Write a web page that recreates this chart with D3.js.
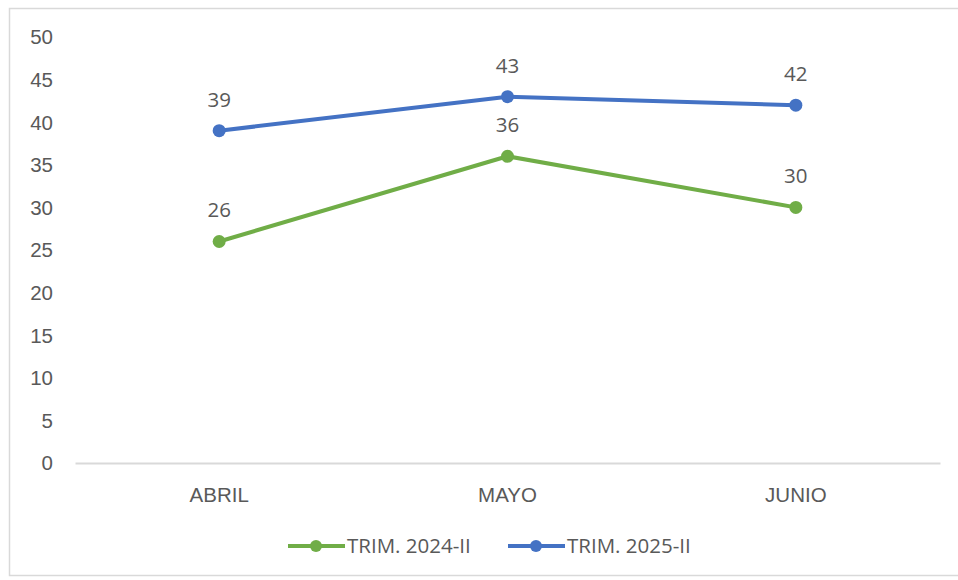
<!DOCTYPE html>
<html>
<head>
<meta charset="utf-8">
<script src="https://cdn.jsdelivr.net/npm/d3@7"></script>
<style>
  html, body { margin: 0; padding: 0; background: #fff; }
  svg { display: block; font-family: "Open Sans", "Noto Sans", "Liberation Sans", sans-serif; }
</style>
</head>
<body>
<svg id="chart" width="958" height="580"></svg>
<script>
// Monthly values for the second quarter of each year
const months = ["ABRIL", "MAYO", "JUNIO"];
const trim2024 = [26, 36, 30];
const trim2025 = [39, 43, 42];
const seriesNames = ["TRIM. 2024-II", "TRIM. 2025-II"];
const yTicks = [0, 5, 10, 15, 20, 25, 30, 35, 40, 45, 50];

const colors = ["#70AD47", "#4472C4"];
const textColor = "#595959";
const fontSize = "20.5px";

const svg = d3.select("#chart");

// Outer chart frame
svg.append("rect")
  .attr("x", 9.5).attr("y", 8.5)
  .attr("width", 960).attr("height", 567)
  .attr("fill", "#fff").attr("stroke", "#d9d9d9").attr("stroke-width", 1.5);

const plot = { left: 75, right: 940, top: 37, bottom: 463 };

const x = d3.scaleBand().domain(months).range([plot.left, plot.right]);
const y = d3.scaleLinear().domain([0, 50]).range([plot.bottom, plot.top]);

// Y axis labels (no axis line, no ticks)
const yAxis = svg.append("g")
  .attr("transform", `translate(${plot.left},0)`)
  .call(d3.axisLeft(y).tickValues(yTicks).tickSize(0).tickPadding(22));
yAxis.select(".domain").remove();
yAxis.selectAll("text")
  .attr("fill", textColor).attr("dy", "0.34em").style("font-size", fontSize);

// Category axis with baseline
const xAxis = svg.append("g")
  .attr("transform", `translate(0,${plot.bottom})`)
  .call(d3.axisBottom(x).tickSize(0).tickPadding(24));
xAxis.select(".domain").attr("stroke", "#d9d9d9").attr("stroke-width", 2);
xAxis.selectAll("text")
  .attr("fill", textColor).style("font-size", fontSize);

const cx = m => x(m) + x.bandwidth() / 2;

const line = d3.line()
  .x((d, i) => cx(months[i]))
  .y(d => y(d));

[trim2024, trim2025].forEach((values, s) => {
  const g = svg.append("g");
  g.append("path")
    .datum(values)
    .attr("d", line)
    .attr("fill", "none")
    .attr("stroke", colors[s])
    .attr("stroke-width", 4)
    .attr("stroke-linejoin", "round");
  g.selectAll("circle")
    .data(values)
    .join("circle")
    .attr("cx", (d, i) => cx(months[i]))
    .attr("cy", d => y(d))
    .attr("r", 6.5)
    .attr("fill", colors[s]);
  g.selectAll("text")
    .data(values)
    .join("text")
    .attr("x", (d, i) => cx(months[i]))
    .attr("y", d => y(d) - 24)
    .attr("text-anchor", "middle")
    .attr("fill", textColor)
    .style("font-size", fontSize)
    .text(d => d);
});

// Legend
const legendItems = [
  { x0: 288, name: seriesNames[0], color: colors[0] },
  { x0: 508, name: seriesNames[1], color: colors[1] }
];
const legendY = 546;
legendItems.forEach(item => {
  const g = svg.append("g");
  g.append("line")
    .attr("x1", item.x0).attr("x2", item.x0 + 57)
    .attr("y1", legendY).attr("y2", legendY)
    .attr("stroke", item.color).attr("stroke-width", 4);
  g.append("circle")
    .attr("cx", item.x0 + 28).attr("cy", legendY).attr("r", 6)
    .attr("fill", item.color);
  g.append("text")
    .attr("x", item.x0 + 59).attr("y", legendY)
    .attr("dy", "0.36em")
    .attr("fill", textColor)
    .style("font-size", fontSize)
    .text(item.name);
});
</script>
</body>
</html>
